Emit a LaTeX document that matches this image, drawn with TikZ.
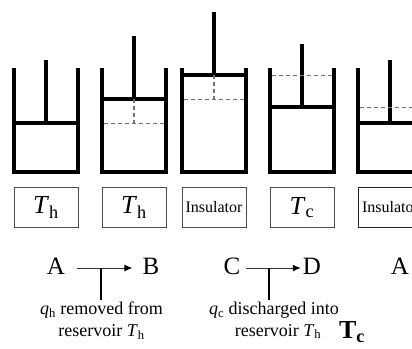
\documentclass[tikz,border=0pt]{standalone}
\usepackage{fontspec}
\setmainfont{Liberation Serif}
\usetikzlibrary{arrows.meta}
\newcommand{\symsub}[2]{\textit{#1}\textsubscript{#2}}
\tikzset{
  wall/.style={line width=4pt,line cap=butt},
  moved/.style={line width=1.2pt,dash pattern=on 4pt off 3pt,black!55},
  bath/.style={draw=black!70,line width=1pt,minimum width=64pt,minimum height=39.5pt,inner sep=0pt},
  state/.style={font=\fontsize{25}{25}\selectfont,inner sep=0pt,text height=16pt,text depth=4pt},
  note/.style={font=\fontsize{18}{22}\selectfont,inner sep=0pt,align=center},
  flow/.style={line width=1pt,black!80,-{Latex[length=8pt,width=7pt,black]}}
}
\begin{document}
\begin{tikzpicture}[x=1pt,y=-1pt]
  \useasboundingbox (0,0) rectangle (412,348);
  \clip (0,0) rectangle (412,348);

  % cylinders: left wall / piston / rod top / old piston level
  \foreach \xl/\yp/\yr/\yd in {14/123/60/0,102/99/36/123.5,182/75/12/99.5,270/107/44/75.5,358/123/60/107.5}{
    \pgfmathsetmacro{\xr}{\xl+64}
    \pgfmathsetmacro{\xm}{\xl+32}
    \draw[wall] (\xl,68) -- (\xl,173.5) (\xr,68) -- (\xr,173.5);
    \draw[wall] (\xl,171.5) -- (\xr,171.5);
    \draw[wall] (\xl,\yp) -- (\xr,\yp);
    \draw[wall] (\xm,\yr) -- (\xm,\yp);
    \ifdim\yd pt>0pt
      \draw[moved] (\xl+2,\yd) -- (\xr-2,\yd);
      \ifdim\yd pt>\yp pt
        \draw[moved] (\xm,\yp) -- (\xm,\yd);
      \fi
    \fi
  }

  \node[bath] (bath1) at (46,207.5) {\raisebox{-1.5pt}{\fontsize{26}{26}\selectfont\symsub{T}{h}}};
  \node[bath] (bath2) at (134,207.5) {\raisebox{-1.5pt}{\fontsize{26}{26}\selectfont\symsub{T}{h}}};
  \node[bath] (bath3) at (214,207.5) {\fontsize{16}{16}\selectfont Insulator};
  \node[bath] (bath4) at (302,207.5) {\raisebox{-1.5pt}{\fontsize{26}{26}\selectfont\symsub{T}{c}}};
  \node[bath,draw=black!85,anchor=west] (bath5) at (358,207.5) {\fontsize{16}{16}\selectfont Insulator};

  \node[state] (stA) at (56,268) {A};
  \node[state] (stB) at (151,268) {B};
  \node[state] (stC) at (232,268) {C};
  \node[state] (stD) at (312,268) {D};
  \node[state] (stE) at (400,268) {A};

  \draw[flow,shorten <=12pt,shorten >=10pt] (stA) -- (stB);
  \draw[flow,shorten <=5pt,shorten >=2pt] (stC) -- (stD);

  \coordinate (teeAB) at (101,268);
  \coordinate (teeCD) at (269,268);
  \node[note,anchor=north] (noteAB) at (101.5,302) {\symsub{q}{h} removed from\\reservoir \symsub{T}{h}};
  \node[note,anchor=north] (noteCD) at (274,302) {\symsub{q}{c} discharged into};
  \node[note,anchor=north] (noteCDb) at (278,324) {reservoir \symsub{T}{h}};
  \node[inner sep=0pt,font=\fontsize{26}{26}\selectfont\bfseries] (tcold) at (352,332) {T\textsubscript{c}};

  \draw[line width=2pt,shorten >=2pt] (teeAB) -- (teeAB |- noteAB.north);
  \draw[line width=2pt,shorten >=2pt] (teeCD) -- (teeCD |- noteCD.north);
\end{tikzpicture}
\end{document}
